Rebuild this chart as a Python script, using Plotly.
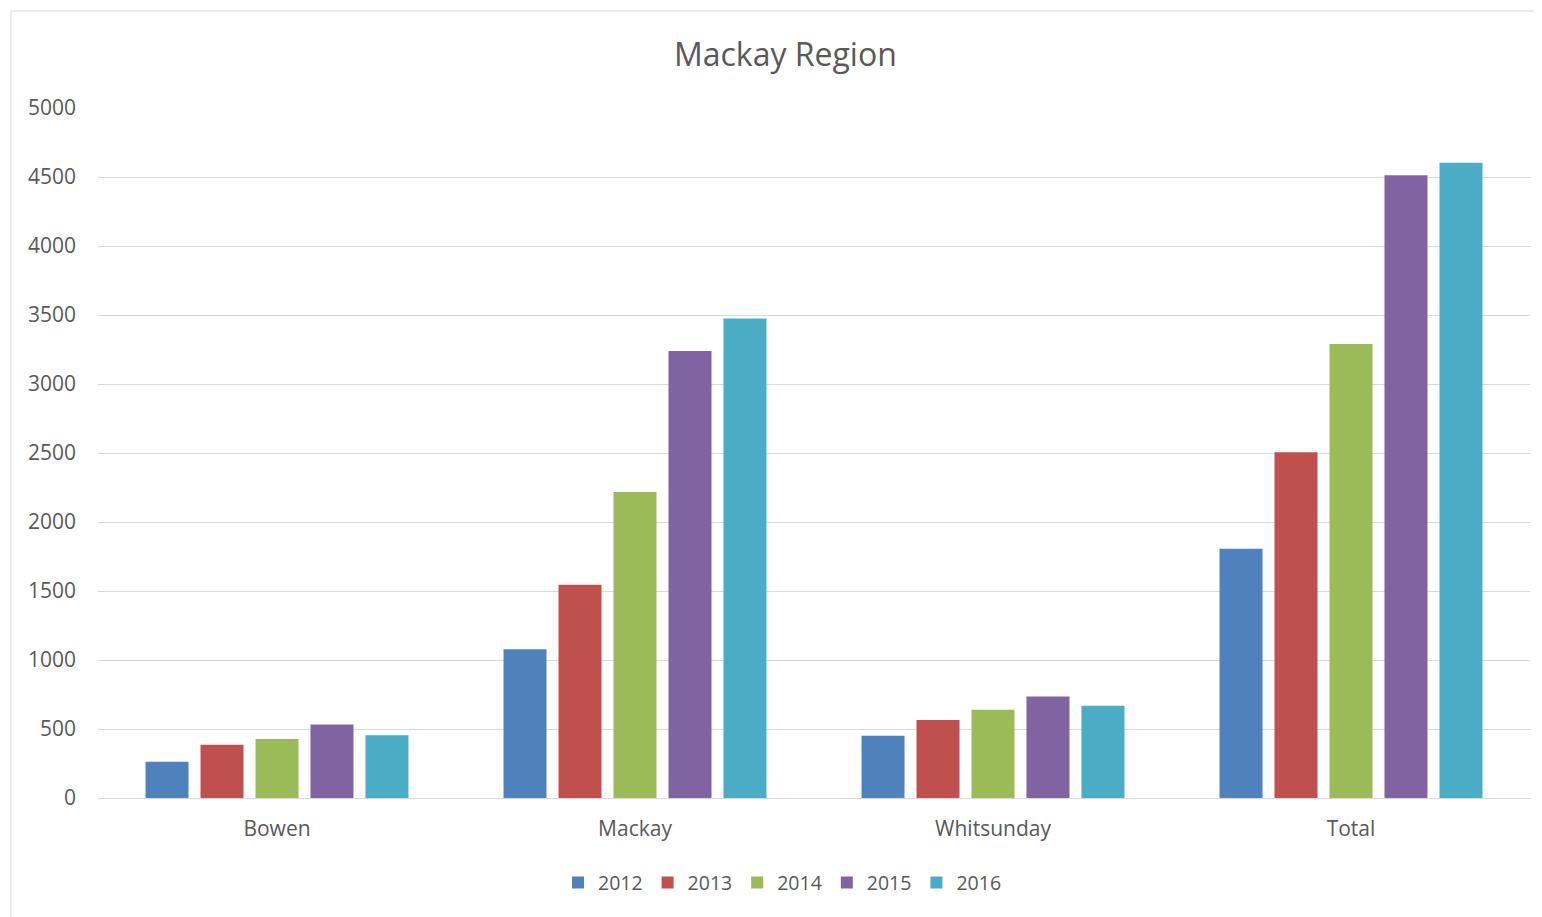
import plotly.graph_objects as go

categories = ["Bowen", "Mackay", "Whitsunday", "Total"]
years = ["2012", "2013", "2014", "2015", "2016"]
v2012 = [262, 1078, 451, 1807]
v2013 = [386, 1546, 566, 2505]
v2014 = [427, 2217, 639, 3290]
v2015 = [532, 3239, 736, 4512]
v2016 = [454, 3474, 668, 4604]
series = [v2012, v2013, v2014, v2015, v2016]
colors = ["#4f81bd", "#c0504d", "#9bbb59", "#8064a2", "#4bacc6"]

FONT = "'Open Sans', 'Noto Sans', sans-serif"
GRAY = "#595959"

fig = go.Figure()
for name, vals, c in zip(years, series, colors):
    fig.add_trace(go.Bar(name=name, x=categories, y=vals, marker_color=c,
                         marker_line_width=0))

fig.update_layout(
    width=1534, height=909,
    paper_bgcolor="white", plot_bgcolor="white",
    margin=dict(l=90, r=12, t=100, b=119),
    barmode="group", bargap=0.232, bargroupgap=0.218,
    title=dict(text="Mackay Region", x=0.48, xanchor="center", xref="paper",
               y=1 - 47 / 909, yanchor="middle",
               font=dict(family=FONT, size=32, color=GRAY)),
    font=dict(family=FONT, size=21, color=GRAY),
    legend=dict(orientation="h", x=0.478, xanchor="center", y=-0.123,
                yanchor="middle", font=dict(family=FONT, size=19.5, color=GRAY),
                itemwidth=30, tracegroupgap=0, bgcolor="rgba(0,0,0,0)"),
    showlegend=True,
)
fig.update_yaxes(range=[0, 5000], dtick=500, showgrid=True, gridcolor="#d9d9d9",
                 gridwidth=1.3, zeroline=False, showline=False,
                 tickfont=dict(family=FONT, size=21, color=GRAY),
                 ticklabelstandoff=21)
fig.update_xaxes(showline=True, linecolor="#d9d9d9", linewidth=1.3, showgrid=False,
                 tickfont=dict(family=FONT, size=21, color=GRAY),
                 ticklabelstandoff=12)
fig.add_shape(type="rect", xref="paper", yref="paper",
              x0=-0.0608, x1=1.007, y0=-0.2, y1=1.1406,
              line=dict(color="#d9d9d9", width=1), fillcolor="rgba(0,0,0,0)",
              layer="below")

fig.write_html("out.html")
